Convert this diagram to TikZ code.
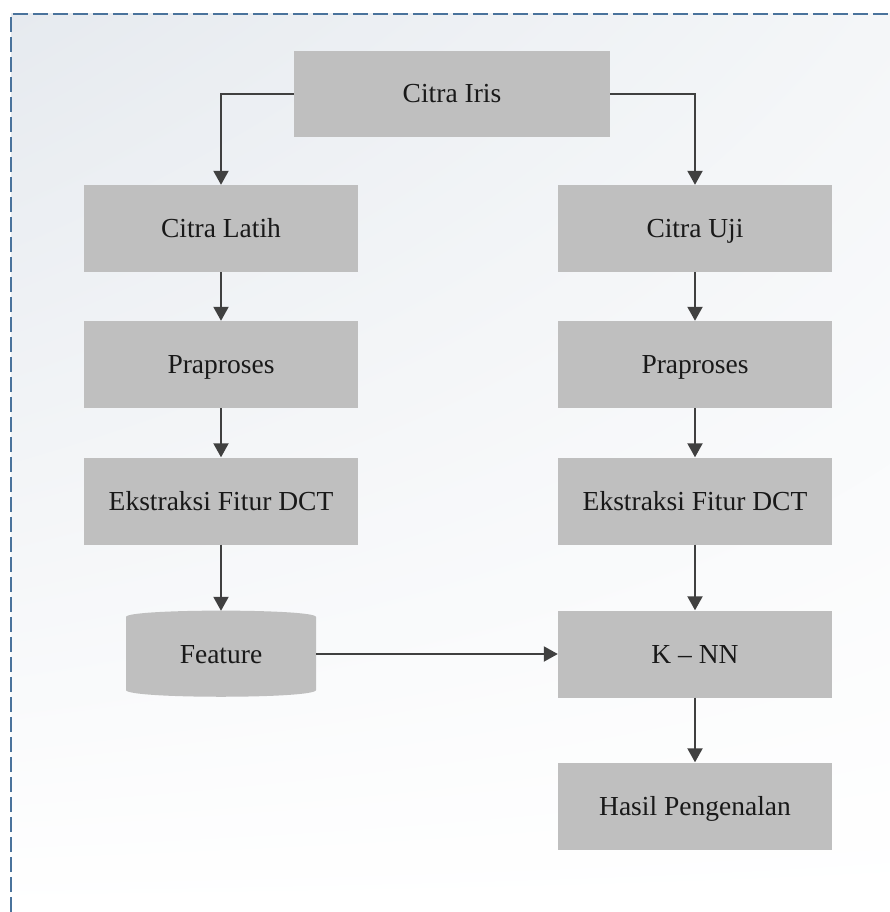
\documentclass[tikz,border=0pt]{standalone}
\usepackage{fontspec}
\setmainfont{Liberation Serif}
\usetikzlibrary{arrows.meta,shadings}
\definecolor{boxgray}{HTML}{BFBFBF}
\definecolor{linegray}{HTML}{404040}
\definecolor{framblue}{HTML}{4A739C}
\definecolor{bgtl}{HTML}{E6EAEF}
\definecolor{bgtr}{HTML}{F4F6F8}
\tikzset{
  procbox/.style={fill=boxgray, draw=none, inner sep=0pt, minimum width=274pt, minimum height=87pt,
    text height=18pt, text depth=0pt, font=\fontsize{27.5}{32}\selectfont, text=black!90},
  flow/.style={draw=linegray, line width=2pt, -{Triangle[width=15pt,length=14pt]}},
  frameline/.style={draw=framblue, line width=2pt, dash pattern=on 15pt off 5pt}
}
\begin{document}
\begin{tikzpicture}[x=1pt,y=-1pt]
\useasboundingbox (0,0) rectangle (890,912);
% background
\shade[upper left=bgtl, upper right=bgtr, lower left=white, lower right=white] (11,14) rectangle (890,912);
\draw[frameline] (11,912) -- (11,14) -- (890,14);
% nodes
\node[procbox, minimum width=316pt, minimum height=86pt] (iris) at (452,94) {Citra Iris};
\node[procbox] (latih) at (221,228.5) {Citra Latih};
\node[procbox] (uji) at (695,228.5) {Citra Uji};
\node[procbox] (prapL) at (221,364.5) {Praproses};
\node[procbox] (prapR) at (695,364.5) {Praproses};
\node[procbox] (ekstL) at (221,501) {Ekstraksi Fitur DCT};
\node[procbox] (ekstR) at (695,501) {Ekstraksi Fitur DCT};
% cylinder
\fill[boxgray] (126,617) .. controls (126,608.5) and (316,608.5) .. (316,617)
  -- (316,690) .. controls (316,699) and (126,699) .. (126,690) -- cycle;
\node[procbox, fill=none, minimum width=190pt, minimum height=86pt] (feat) at (221,654) {Feature};
\node[procbox] (knn) at (695,654) {K – NN};
\node[procbox] (hasil) at (695,806) {Hasil Pengenalan};
% connectors
\draw[flow] (iris.west) -| (latih.north);
\draw[flow] (iris.east) -| (uji.north);
\draw[flow] (latih) -- (prapL);
\draw[flow] (uji) -- (prapR);
\draw[flow] (prapL) -- (ekstL);
\draw[flow] (prapR) -- (ekstR);
\draw[flow] (ekstL.south) -- (feat.north);
\draw[flow] (ekstR) -- (knn);
\draw[flow] (feat.east) -- (knn.west);
\draw[flow] (knn) -- (hasil);
\end{tikzpicture}
\end{document}
